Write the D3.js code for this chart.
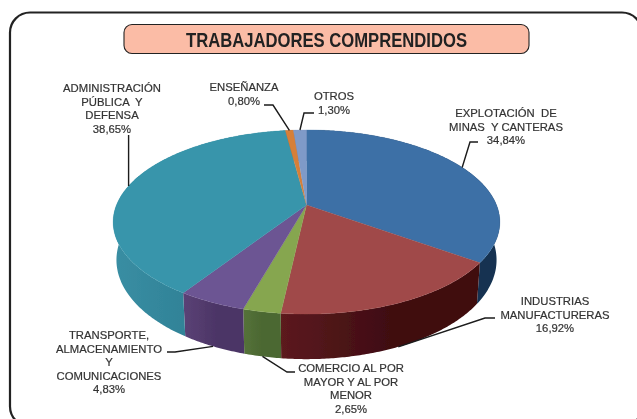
<!DOCTYPE html>
<html><head><meta charset="utf-8">
<script src="https://cdn.jsdelivr.net/npm/d3@7"></script>
<style>html,body{margin:0;padding:0;background:#fff;overflow:hidden}svg{display:block}</style>
</head><body><svg id="c" width="637" height="419"></svg>
<script>
const titleText = "TRABAJADORES COMPRENDIDOS";
const categories = [
  ["EXPLOTACIÓN  DE","MINAS  Y CANTERAS"],
  ["INDUSTRIAS","MANUFACTURERAS"],
  ["COMERCIO AL POR","MAYOR Y AL POR","MENOR"],
  ["TRANSPORTE,","ALMACENAMIENTO","Y","COMUNICACIONES"],
  ["ADMINISTRACIÓN","PÚBLICA  Y","DEFENSA"],
  ["ENSEÑANZA"],
  ["OTROS"]
];
const values = [34.84,16.92,2.65,4.83,38.65,0.80,1.30];
const valueLabels = ["34,84%","16,92%","2,65%","4,83%","38,65%","0,80%","1,30%"];
const topColors = ["#3e70a6","#a04a48","#86a64f","#6c5493","#3795ab","#d67f38","#7f9ac8"];
const sideLight = ["#1d4468","#5c1a1f","#55723a","#5b4276","#3a8ea3","#a0602a","#5d75a0"];
const sideDark  = ["#123351","#3f0d11","#4b6731","#4c3566","#2d7f94","#a0602a","#5d75a0"];
// label layout: text centre x, first line centre y, elbow end y, elbow start x, knee x, wall attach flag
const labelX = [506,555,351,109,112,244,334];
const labelY = [113,301,368,335,88,87,96];
const elbowY = [142,318,372,352,null,105,113];
const elbowStart = [478,495,295,167,null,264,314];
const elbowKnee = [470,485,287,175,null,273,304];
const attachBottom = [false,true,true,true,false,false,false];

const svg = d3.select("#c");
const defs = svg.append("defs");
const f = defs.append("filter").attr("id","soft").attr("x","-5%").attr("y","-5%").attr("width","110%").attr("height","110%");
f.append("feGaussianBlur").attr("stdDeviation",0.5);

// frame
const root = svg.append("g").attr("filter","url(#soft)");
root.append("rect").attr("x",10).attr("y",12.5).attr("width",632).attr("height",414).attr("rx",20)
  .attr("fill","#fff").attr("stroke","#222").attr("stroke-width",2.2);
// title
root.append("rect").attr("x",124).attr("y",24.5).attr("width",405).attr("height",29).attr("rx",8)
  .attr("fill","#fbbca6").attr("stroke","#222").attr("stroke-width",1.1);
root.append("text").attr("x",326.5).attr("y",46.5).attr("text-anchor","middle")
  .attr("font-family","'Liberation Sans',sans-serif").attr("font-weight",700)
  .attr("font-size",20).attr("textLength",281).attr("lengthAdjust","spacingAndGlyphs")
  .attr("fill","#222").text(titleText);

// pie geometry: perspective view of a circular disc
const cx = 306.5, rx = 190, persp = -0.185, yAmp = 51, yApex = 205, depth = 36.7, botScale = 0.983;
const project = (a, bottom) => {
  const x = Math.sin(a), t = -Math.cos(a), d = 1 + persp*t;
  return [cx + (bottom?botScale:1)*rx*x/d, (yAmp*t + yApex + (bottom?depth:0))/d];
};
const pie = d3.pie().sort(null).startAngle(0).endAngle(2*Math.PI);
const arcs = pie(values);
const line = d3.line();
const rim = (s,e,bottom) => {
  const n = Math.max(2,Math.ceil((e-s)/0.01));
  return d3.range(n+1).map(i => project(s+(e-s)*i/n,bottom));
};
// walls
arcs.forEach((d,i) => {
  const top = rim(d.startAngle,d.endAngle,false), bot = rim(d.startAngle,d.endAngle,true).reverse();
  const xs = top.map(p=>p[0]);
  const g = defs.append("linearGradient").attr("id","w"+i).attr("gradientUnits","userSpaceOnUse")
    .attr("x1",d3.min(xs)).attr("x2",d3.max(xs)).attr("y1",0).attr("y2",0);
  g.append("stop").attr("offset",0).attr("stop-color",sideLight[i]);
  g.append("stop").attr("offset",0.55).attr("stop-color",sideDark[i]);
  g.append("stop").attr("offset",1).attr("stop-color",sideDark[i]);
  root.append("path").attr("d",line(top.concat(bot))+"Z").attr("fill",`url(#w${i})`);
});
// top faces
arcs.forEach((d,i) => {
  const pts = [[cx,yApex]].concat(rim(d.startAngle,d.endAngle,false));
  root.append("path").attr("d",line(pts)+"Z").attr("fill",topColors[i])
    .attr("stroke",topColors[i]).attr("stroke-width",0.3);
});
// leaders
arcs.forEach((d,i) => {
  const mid = (d.startAngle+d.endAngle)/2, p = project(mid,attachBottom[i]);
  const pts = elbowY[i]===null ? [[p[0],labelY[i]+47],p] : [[elbowStart[i],elbowY[i]],[elbowKnee[i],elbowY[i]],p];
  root.append("path").attr("d",line(pts)).attr("fill","none").attr("stroke","#1a1a1a").attr("stroke-width",1.4);
});
// labels
const lineH = 13.5;
categories.forEach((lines,i) => {
  const t = root.append("text").attr("text-anchor","middle").attr("font-family","'Liberation Sans',Arial,sans-serif")
    .attr("font-size",11.3).attr("fill","#333").attr("stroke","#333").attr("stroke-width",0.2);
  lines.concat(valueLabels[i]).forEach((s,j) => {
    t.append("tspan").attr("x",labelX[i]).attr("y",labelY[i]+j*lineH+4).attr("xml:space","preserve").text(s);
  });
});
</script></body></html>
